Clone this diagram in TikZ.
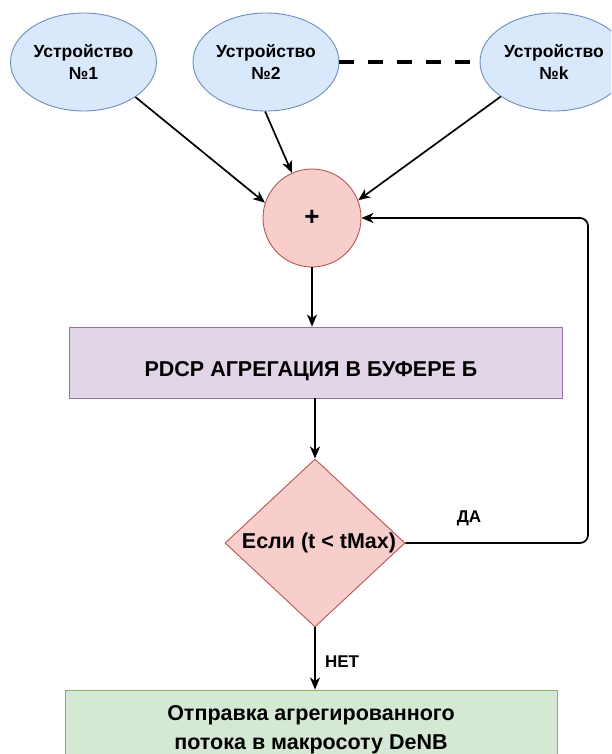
\documentclass[tikz,border=0pt]{standalone}
\usepackage{fontspec}
\setmainfont{Liberation Sans}
\usetikzlibrary{shapes.geometric,arrows.meta}

\definecolor{devfill}{HTML}{DAE8FC}
\definecolor{devline}{HTML}{6C8EBF}
\definecolor{redfill}{HTML}{F8CECC}
\definecolor{redline}{HTML}{B85450}
\definecolor{purfill}{HTML}{E1D5E7}
\definecolor{purline}{HTML}{9673A6}
\definecolor{grnfill}{HTML}{D5E8D4}
\definecolor{grnline}{HTML}{82B366}

\tikzset{
  device/.style={ellipse, draw=devline, fill=devfill, line width=0.9pt,
    minimum width=146pt, minimum height=98pt, inner sep=0pt, align=center,
    font=\fontsize{17.5}{22}\selectfont\bfseries},
  sumnode/.style={circle, draw=redline, fill=redfill, line width=0.9pt,
    minimum size=98pt, inner sep=0pt, font=\fontsize{26}{26}\selectfont\bfseries},
  procbox/.style={rectangle, draw=purline, fill=purfill, line width=0.9pt,
    minimum width=493pt, minimum height=71pt, inner sep=0pt},
  decision/.style={diamond, draw=redline, fill=redfill, line width=0.9pt,
    minimum width=180pt, minimum height=168pt, inner sep=0pt},
  sendbox/.style={rectangle, draw=grnline, fill=grnfill, line width=0.9pt,
    minimum width=492pt, minimum height=80pt, inner sep=0pt, align=center,
    font=\fontsize{21.5}{29}\selectfont\bfseries},
  boldtext/.style={inner sep=0pt, font=\fontsize{21.5}{24}\selectfont\bfseries},
  smalltext/.style={inner sep=0pt, font=\fontsize{17}{18}\selectfont\bfseries},
  flow/.style={line width=1.7pt, -{Stealth[length=12pt,width=10pt,inset=3.5pt]}},
  ellipsis/.style={line width=3.5pt, dash pattern=on 15pt off 14pt},
}

\begin{document}
\begin{tikzpicture}[x=1pt,y=-1pt]
  \clip (0,0) rectangle (611,754);
  \useasboundingbox (0,0) rectangle (611,754);

  % devices
  \node[device] (e1) at (83.5,62) {Устройство\\№1};
  \node[device] (e2) at (266,62) {Устройство\\№2};
  \node[device, minimum width=148pt] (ek) at (554,62) {Устройство\\№k};
  \draw[ellipsis] (e2.east) -- (ek.west);

  % summation
  \node[sumnode] (c) at (312,218) {+};
  \draw[flow] (e1.-34) -- (c.162);
  \draw[flow] (e2.-91) -- (c.114);
  \draw[flow] (ek.213) -- (c.21);

  % PDCP aggregation
  \node[procbox] (p) at (315.5,362.5) {};
  \node[boldtext] (ptext) at (311,371.5) {PDCP АГРЕГАЦИЯ В БУФЕРЕ Б};
  \draw[flow] (c.south) -- (c.south |- p.north);

  % decision
  \node[decision] (d) at (315,543) {};
  \node[boldtext] (dtext) at (319,543) {Если (t < tMax)};
  \draw[flow] (p.south -| d.north) -- (d.north);

  % feedback loop
  \coordinate (fb1) at (588,543);
  \coordinate (fb2) at (588,218);
  \draw[flow, rounded corners=8pt] (d.east) -- (fb1) -- (fb2) -- (c.east);
  \node[smalltext] (yes) at (469,518) {ДА};

  % send
  \node[sendbox] (g) at (311,730) {Отправка агрегированного\\потока в макросоту DeNB};
  \draw[flow] (d.south) -- (d.south |- g.north);
  \node[smalltext] (no) at (342,662) {НЕТ};
\end{tikzpicture}
\end{document}
